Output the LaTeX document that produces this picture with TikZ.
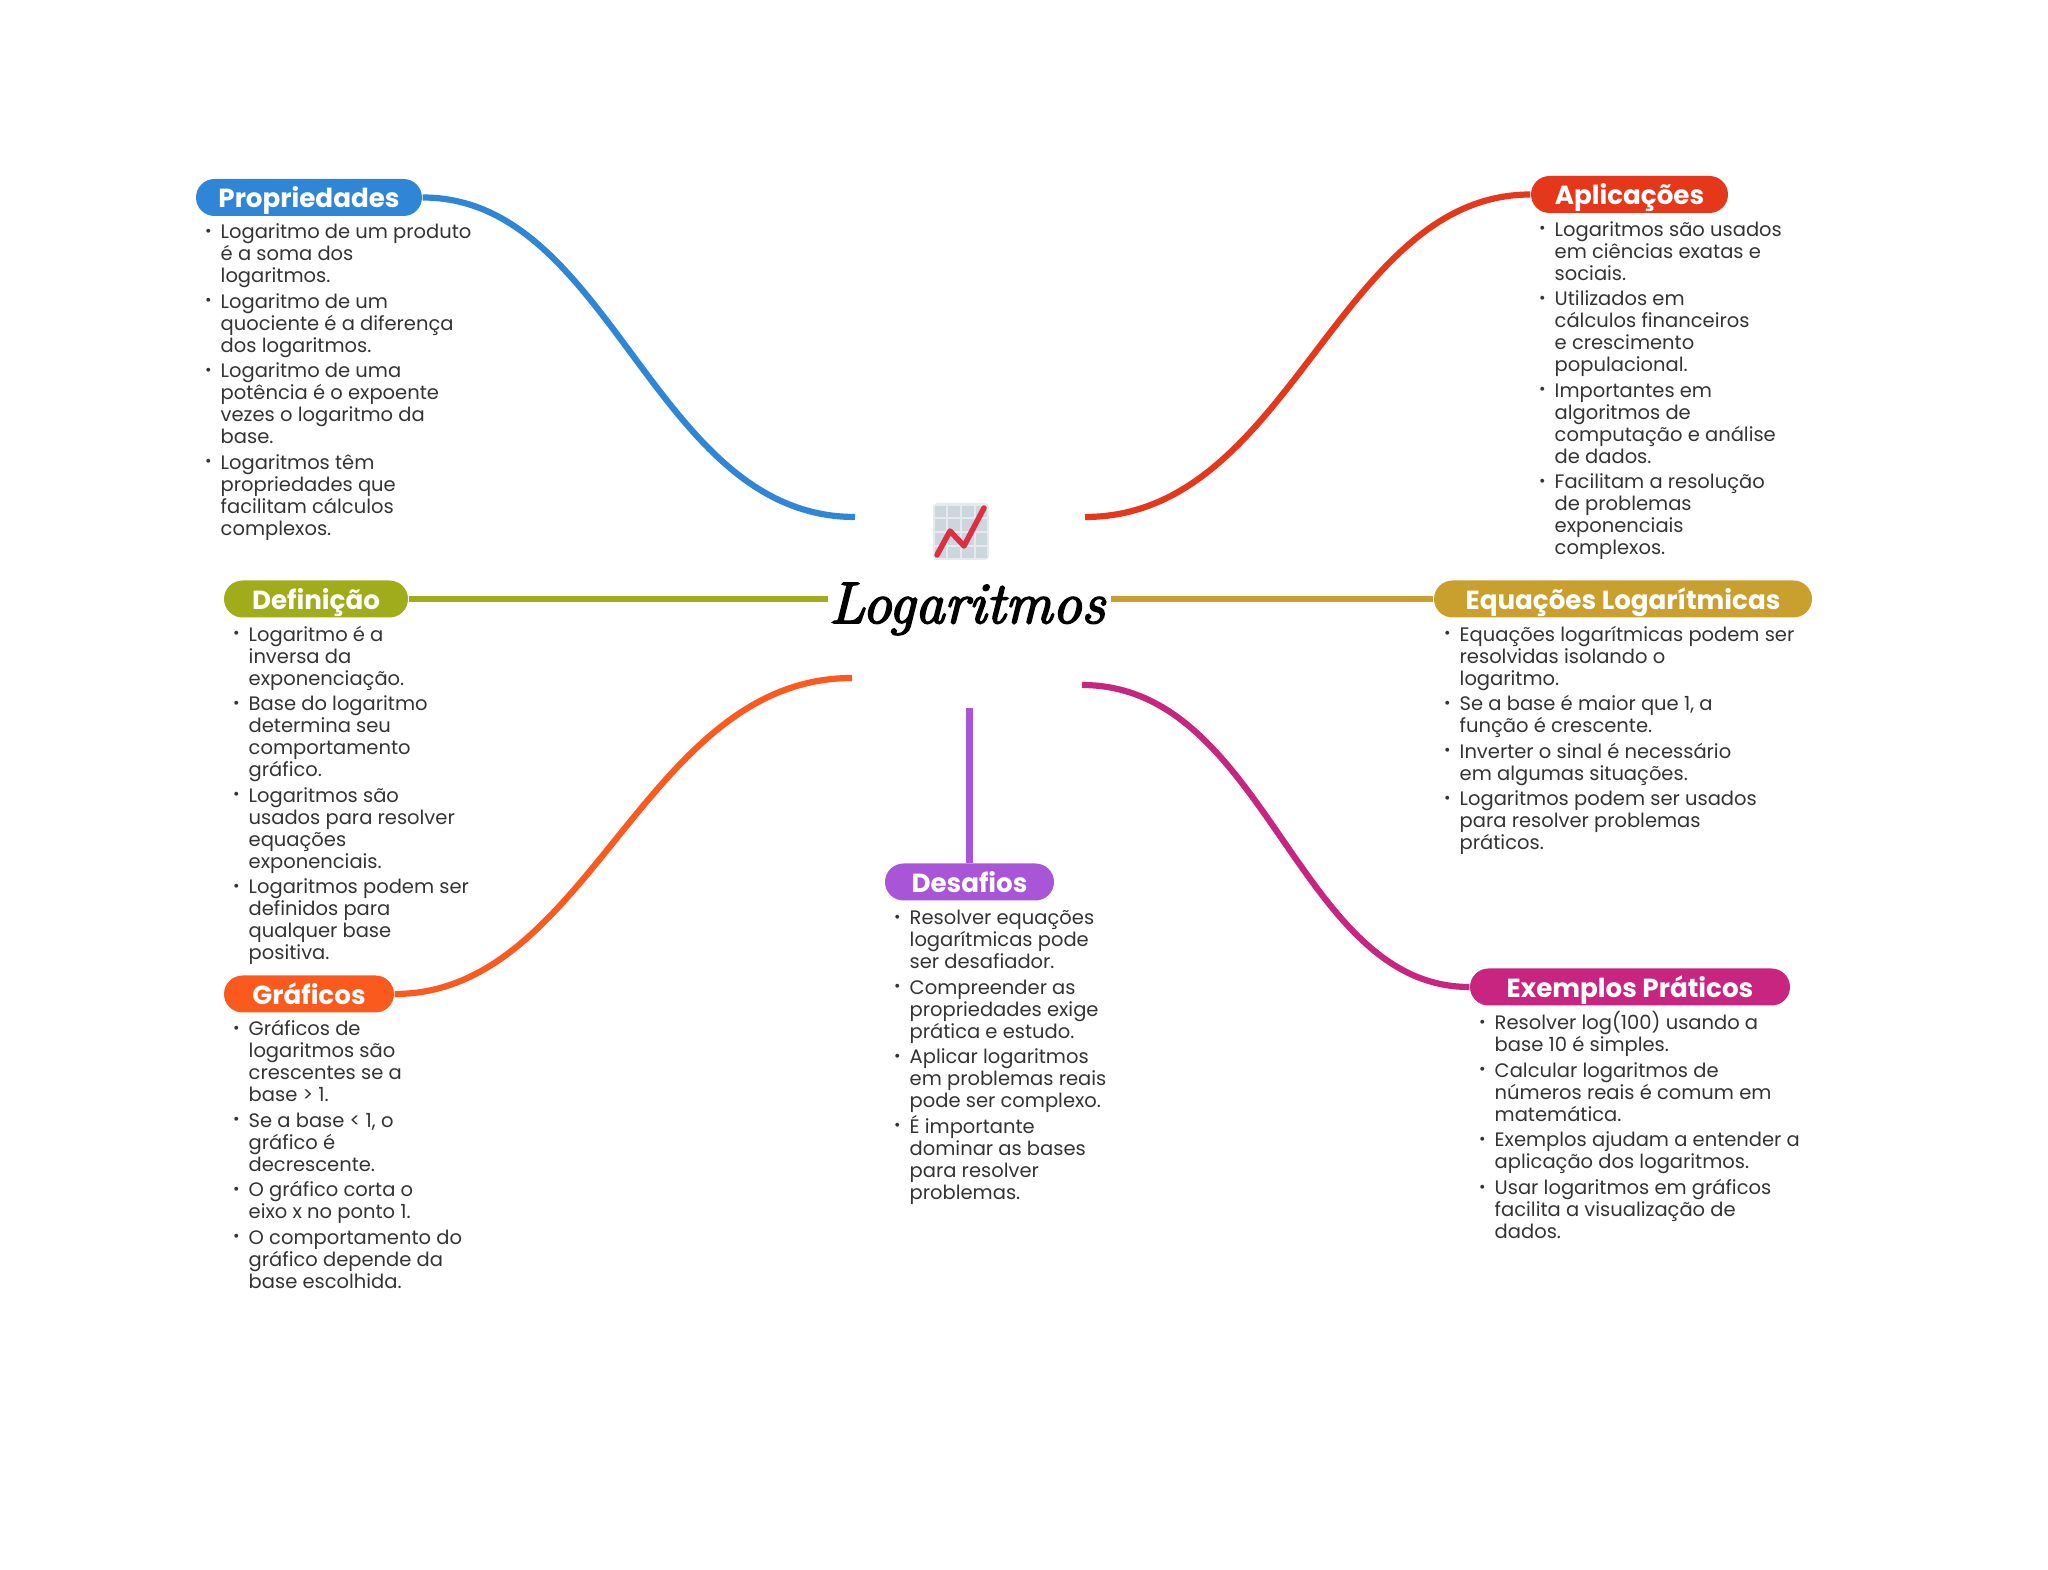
\documentclass[tikz,border=0pt]{standalone}
\usepackage{fontspec}
\setsansfont{Poppins}
\newfontfamily\logofont{Latin Modern Roman}[ItalicFeatures={FakeBold=3}]
\usepackage{tikz}
\definecolor{bluebr}{HTML}{2F86D6}
\definecolor{redbr}{HTML}{E5381B}
\definecolor{olivebr}{HTML}{A0AC1A}
\definecolor{goldbr}{HTML}{C9A02E}
\definecolor{orangebr}{HTML}{FB5A1F}
\definecolor{pinkbr}{HTML}{C7257F}
\definecolor{purplebr}{HTML}{A855D8}
\definecolor{bodytxt}{HTML}{333333}
\definecolor{iconbg}{HTML}{E4EAEE}
\definecolor{iconcell}{HTML}{CCD6DD}
\definecolor{iconline}{HTML}{DD2E44}
\newcommand{\bul}{\strut\llap{\raisebox{.7pt}{\fontsize{4.5}{4.5}\selectfont\textbullet}\hspace{2.6pt}}}
\newcommand{\listfont}{\sffamily\fontsize{5.55}{6.26}\selectfont\lineskiplimit=-5pt\relax}
\tikzset{
  pill/.style={draw=none, rounded corners=1.85mm, minimum height=3.7mm, inner sep=0pt,
               text=white, text height=2.2mm, text depth=.18mm,
               font=\sffamily\bfseries\fontsize{7.45}{9}\selectfont},
  blist/.style={anchor=north west, inner sep=0pt, align=left, text=bodytxt, font=\listfont},
  br/.style={line width=.62mm},                                        % branch
  sbr/.style={out=0, in=180, out looseness=.9, in looseness=.96},      % curved branch
  rbr/.style={out=180, in=0, out looseness=.9, in looseness=.96},      % same, going left
}
\begin{document}
\begin{tikzpicture}
  \useasboundingbox (0,0) rectangle (20.48,15.69);
  \node[anchor=base, inner sep=0pt, font=\logofont\itshape\fontsize{16.7}{20}\selectfont] (title) at (9.67,9.46) {Logaritmos};
  % chart icon
  \fill[iconbg, rounded corners=.4mm] (9.33,10.09) rectangle (9.89,10.66);
  \foreach \i in {0,...,3}
    \foreach \j in {0,...,3}
      \fill[iconcell] (9.345+.137*\i,10.105+.137*\j) rectangle +(.118,.118);
  \draw[iconline, line width=.55mm, line cap=round, line join=round]
    (9.37,10.14) -- (9.50,10.38) -- (9.64,10.23) -- (9.84,10.61);
  % branch ends
  \coordinate (e1) at (8.55,10.52);
  \coordinate (e2) at (10.85,10.52);
  \coordinate (e3) at (8.28,9.70);
  \coordinate (e4) at (11.11,9.70);
  \coordinate (e5) at (8.52,8.91);
  \coordinate (e6) at (10.82,8.84);
  \coordinate (e7) at (9.695,8.61);
  % headings
  \node[pill, fill=bluebr, minimum width=22.6mm] (prop) at (3.09,13.715) {Propriedades};
  \node[pill, fill=redbr, minimum width=19.7mm] (apl) at (16.295,13.745) {Aplicações};
  \node[pill, fill=olivebr, minimum width=18.4mm] (defi) at (3.16,9.70) {Definição};
  \node[pill, fill=goldbr, minimum width=37.8mm] (equa) at (16.23,9.70) {Equações Logarítmicas};
  \node[pill, fill=orangebr, minimum width=17mm] (graf) at (3.09,5.75) {Gráficos};
  \node[pill, fill=pinkbr, minimum width=32mm] (expl) at (16.30,5.82) {Exemplos Práticos};
  \node[pill, fill=purplebr, minimum width=16.9mm] (desa) at (9.695,6.87) {Desafios};
  % branches
  \draw[br, bluebr] (prop.east) to[sbr] (e1);
  \draw[br, redbr] (apl.west) to[rbr] (e2);
  \draw[br, olivebr] (defi.east) -- (e3);
  \draw[br, goldbr] (equa.west) -- (e4);
  \draw[br, orangebr] (graf.east) to[sbr] (e5);
  \draw[br, pinkbr] (expl.west) to[rbr] (e6);
  \draw[br, purplebr] (desa.north) -- (e7);
  % lists
  \node[blist] (lprop) at (2.20,13.465) {\bul Logaritmo de um produto\\é a soma dos\\logaritmos.\\[1pt]
    \bul Logaritmo de um\\quociente é a diferença\\dos logaritmos.\\[1pt]
    \bul Logaritmo de uma\\potência é o expoente\\vezes o logaritmo da\\base.\\[1pt]
    \bul Logaritmos têm\\propriedades que\\facilitam cálculos\\complexos.};
  \node[blist] (lapl) at (15.54,13.49) {\bul Logaritmos são usados\\em ciências exatas e\\sociais.\\[1pt]
    \bul Utilizados em\\cálculos financeiros\\e crescimento\\populacional.\\[1pt]
    \bul Importantes em\\algoritmos de\\computação e análise\\de dados.\\[1pt]
    \bul Facilitam a resolução\\de problemas\\exponenciais\\complexos.};
  \node[blist] (ldefi) at (2.48,9.44) {\bul Logaritmo é a\\inversa da\\exponenciação.\\[1pt]
    \bul Base do logaritmo\\determina seu\\comportamento\\gráfico.\\[1pt]
    \bul Logaritmos são\\usados para resolver\\equações\\exponenciais.\\[1pt]
    \bul Logaritmos podem ser\\definidos para\\qualquer base\\positiva.};
  \node[blist] (lequa) at (14.59,9.44) {\bul Equações logarítmicas podem ser\\resolvidas isolando o\\logaritmo.\\[1pt]
    \bul Se a base é maior que 1, a\\função é crescente.\\[1pt]
    \bul Inverter o sinal é necessário\\em algumas situações.\\[1pt]
    \bul Logaritmos podem ser usados\\para resolver problemas\\práticos.};
  \node[blist] (lgraf) at (2.48,5.495) {\bul Gráficos de\\logaritmos são\\crescentes se a\\base > 1.\\[1pt]
    \bul Se a base < 1, o\\gráfico é\\decrescente.\\[1pt]
    \bul O gráfico corta o\\eixo x no ponto 1.\\[1pt]
    \bul O comportamento do\\gráfico depende da\\base escolhida.};
  \node[blist] (lexpl) at (14.94,5.58) {\bul Resolver log(100) usando a\\base 10 é simples.\\[1pt]
    \bul Calcular logaritmos de\\números reais é comum em\\matemática.\\[1pt]
    \bul Exemplos ajudam a entender a\\aplicação dos logaritmos.\\[1pt]
    \bul Usar logaritmos em gráficos\\facilita a visualização de\\dados.};
  \node[blist] (ldesa) at (9.09,6.605) {\bul Resolver equações\\logarítmicas pode\\ser desafiador.\\[1pt]
    \bul Compreender as\\propriedades exige\\prática e estudo.\\[1pt]
    \bul Aplicar logaritmos\\em problemas reais\\pode ser complexo.\\[1pt]
    \bul É importante\\dominar as bases\\para resolver\\problemas.};
\end{tikzpicture}
\end{document}
